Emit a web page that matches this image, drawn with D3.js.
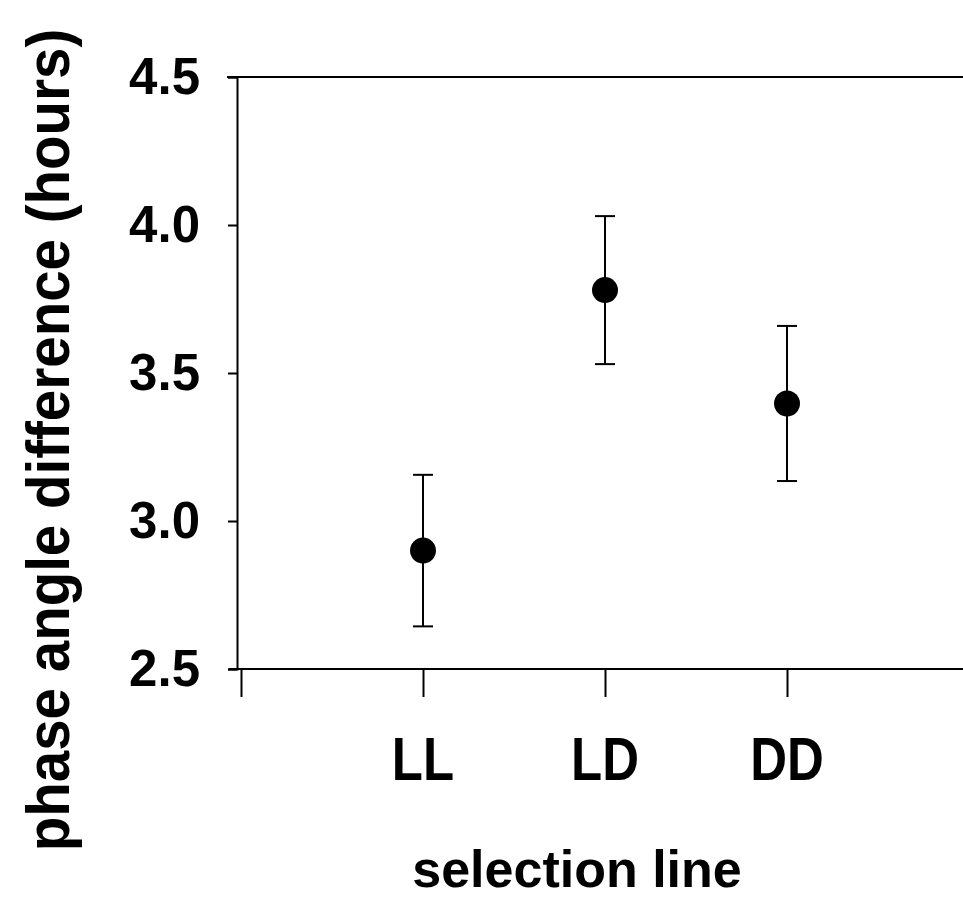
<!DOCTYPE html>
<html>
<head>
<meta charset="utf-8">
<script src="https://cdn.jsdelivr.net/npm/d3@7"></script>
<style>
  html, body { margin: 0; padding: 0; background: #fff; }
  svg { display: block; }
  text { font-family: "Liberation Sans", Arial, Helvetica, sans-serif; font-weight: bold; fill: #000; }
</style>
</head>
<body>
<svg id="chart" width="963" height="899"></svg>
<script>
// Selection lines and their mean phase angle difference (hours) with standard errors
const categories = ["LL", "LD", "DD"];
const means = [2.90, 3.78, 3.397];
const errors = [0.256, 0.25, 0.262];
const yTicks = [2.5, 3.0, 3.5, 4.0, 4.5];

const svg = d3.select("#chart");

const plotLeft = 237, plotRight = 963, plotTop = 77, plotBottom = 669;

const y = d3.scaleLinear().domain([2.5, 4.5]).range([plotBottom, plotTop]);
// categories sit at positions 1..3 on a 0..4 slot axis
const x = d3.scaleLinear().domain([0, 4]).range([241, 969]);

// frame: top rule
svg.append("line").attr("x1", 227).attr("x2", plotRight).attr("y1", plotTop).attr("y2", plotTop)
  .attr("stroke", "#000").attr("stroke-width", 2);

// y axis
const yAxis = d3.axisLeft(y).tickValues(yTicks).tickSize(9).tickPadding(28)
  .tickFormat(d3.format(".1f"));
const gy = svg.append("g").attr("transform", `translate(${plotLeft},0)`).call(yAxis);
gy.select(".domain").attr("stroke", "#000").attr("stroke-width", 2);
gy.selectAll(".tick line").attr("stroke", "#000").attr("stroke-width", 2);
gy.selectAll(".tick text").attr("font-size", 51).attr("dy", "0.32em")
  .style("font-family", '"Liberation Sans", Arial, sans-serif').style("font-weight", "bold");

// x axis with ticks hanging below the baseline
const xAxis = d3.axisBottom(x).tickValues([0, 1, 2, 3, 4]).tickSize(28).tickFormat("");
const gx = svg.append("g").attr("transform", `translate(0,${plotBottom})`).call(xAxis);
gx.select(".domain").remove();
gx.selectAll(".tick line").attr("stroke", "#000").attr("stroke-width", 2);
svg.append("line").attr("x1", 229).attr("x2", plotRight).attr("y1", plotBottom).attr("y2", plotBottom)
  .attr("stroke", "#000").attr("stroke-width", 2);

// category labels
svg.append("g").selectAll("text").data(categories).join("text")
  .attr("text-anchor", "middle")
  .attr("transform", (d, i) => `translate(${x(i + 1)},780) scale(1,1.18)`)
  .attr("font-size", 51)
  .text(d => d);

// error bars
const eb = svg.append("g").selectAll("g").data(means).join("g");
eb.append("line")
  .attr("x1", (d, i) => x(i + 1)).attr("x2", (d, i) => x(i + 1))
  .attr("y1", (d, i) => y(d + errors[i])).attr("y2", (d, i) => y(d - errors[i]))
  .attr("stroke", "#000").attr("stroke-width", 2);
eb.append("line")
  .attr("x1", (d, i) => x(i + 1) - 10).attr("x2", (d, i) => x(i + 1) + 10)
  .attr("y1", (d, i) => y(d + errors[i])).attr("y2", (d, i) => y(d + errors[i]))
  .attr("stroke", "#000").attr("stroke-width", 2);
eb.append("line")
  .attr("x1", (d, i) => x(i + 1) - 10).attr("x2", (d, i) => x(i + 1) + 10)
  .attr("y1", (d, i) => y(d - errors[i])).attr("y2", (d, i) => y(d - errors[i]))
  .attr("stroke", "#000").attr("stroke-width", 2);

// means
svg.append("g").selectAll("circle").data(means).join("circle")
  .attr("cx", (d, i) => x(i + 1)).attr("cy", d => y(d)).attr("r", 13)
  .attr("fill", "#000");

// axis titles
svg.append("text").attr("text-anchor", "middle")
  .attr("x", 577).attr("y", 887).attr("font-size", 52)
  .text("selection line");

svg.append("text").attr("text-anchor", "middle")
  .attr("transform", "translate(69,440) rotate(-90) scale(1,1.08)")
  .attr("font-size", 56.5)
  .text("phase angle difference (hours)");
</script>
</body>
</html>
